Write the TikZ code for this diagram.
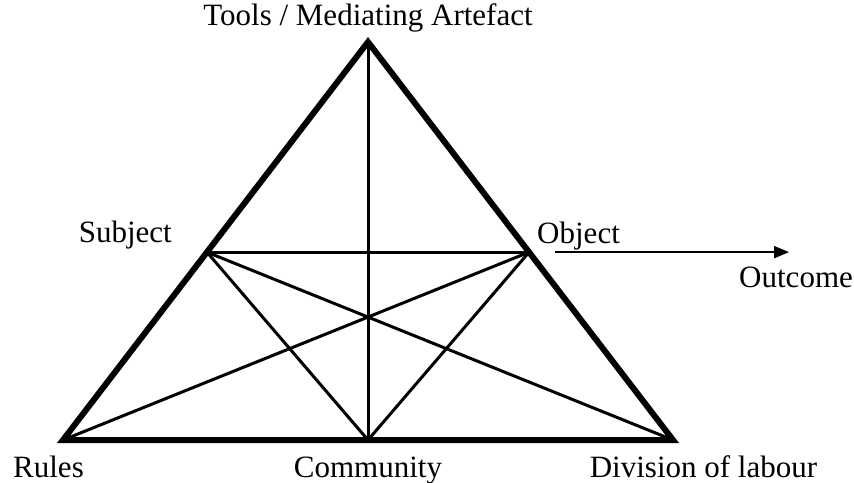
\documentclass[tikz,border=0pt]{standalone}
\usepackage{fontspec}
\setmainfont{Liberation Serif}
\usetikzlibrary{calc,positioning,arrows.meta}

\begin{document}
\begin{tikzpicture}[x=1pt,y=-1pt,
		every node/.style={inner sep=0pt,font=\fontsize{31}{36}\selectfont},
		side/.style={line width=6pt,line join=miter},
		link/.style={line width=3pt},
		result/.style={line width=2pt,-{Triangle[length=15pt,width=12pt]}}]
		\useasboundingbox (0,0) rectangle (854,482);
		\coordinate (r) at (63,440);
		\coordinate[right=610pt of r] (d);
		\coordinate (c) at ($(r)!0.5!(d)$);
		\coordinate (t) at ($(c)+(0,-398)$);
		\coordinate (s) at ($(t)!0.528!(r)$);
		\coordinate (o) at ($(t)!0.528!(d)$);
		\coordinate (a1) at ($(o)+(26,0)$);
		\coordinate[right=234pt of a1] (a2);
		%
		\draw[side] (t) -- (r) -- (d) -- cycle;
		\draw[link] (t) -- (c);
		\draw[link] (s) -- (o);
		\draw[link] (s) -- (c);
		\draw[link] (o) -- (c);
		\draw[link] (s) -- (d);
		\draw[link] (o) -- (r);
		\draw[result] (a1) -- (a2);
		%
		\node[anchor=base] (tools) at ($(t)+(0,-17)$) {Tools / Mediating Artefact};
		\node[anchor=base east] (subject) at ($(s)+(-35,-10)$) {Subject};
		\node[anchor=base west] (object) at ($(o)+(8,-9)$) {Object};
		\node[anchor=base west] (outcome) at ($(a2)+(-50,35)$) {Outcome};
		\node[anchor=base west] (rules) at ($(r)+(-50,37)$) {Rules};
		\node[anchor=base] (community) at ($(c)+(0,37)$) {Community};
		\node[anchor=base] (division) at ($(d)+(30.5,37)$) {Division of labour};
\end{tikzpicture}
\end{document}
